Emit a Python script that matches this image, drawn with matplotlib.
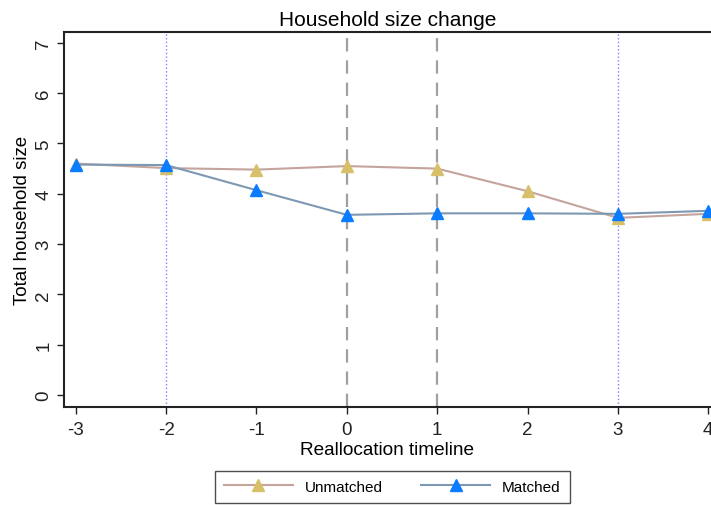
import matplotlib
matplotlib.use("Agg")
from matplotlib import pyplot as plt

plt.rcParams['font.family'] = ['Liberation Sans', 'DejaVu Sans']
plt.rcParams['axes.unicode_minus'] = False

# reallocation timeline (years relative to reallocation)
timeline = [-3, -2, -1, 0, 1, 2, 3, 4]
unmatched = [4.60, 4.51, 4.48, 4.55, 4.50, 4.05, 3.52, 3.60]
matched = [4.58, 4.57, 4.07, 3.58, 3.61, 3.61, 3.60, 3.66]
y_ticks = [0, 1, 2, 3, 4, 5, 6, 7]

fig = plt.figure(figsize=(7.11, 5.06), dpi=100)
ax = fig.add_axes([0.09, 0.194, 0.91, 0.741])

# reference lines
for x in (-2, 3):
    ax.axvline(x, color='#8080ff', linestyle=':', linewidth=1.0, zorder=1)
for x in (0, 1):
    ax.axvline(x, color='#a0a0a0', linestyle=(0, (6, 4)), linewidth=1.6, zorder=1)

ax.plot(timeline, unmatched, color='#c4a49c', linewidth=1.5, marker='^',
        markersize=9, markerfacecolor='#d8c06a', markeredgecolor='#d8c06a',
        label='Unmatched', zorder=3)
ax.plot(timeline, matched, color='#7d98b2', linewidth=1.5, marker='^',
        markersize=9, markerfacecolor='#0a7cff', markeredgecolor='#0a7cff',
        label='Matched', zorder=4)

ax.set_xlim(-3.13, 4.03)
ax.set_ylim(-0.24, 7.22)
ax.set_xticks(timeline)
ax.set_yticks(y_ticks)
ax.tick_params(axis='both', direction='out', length=5, width=1, labelsize=13.5, colors='#222222')
ax.tick_params(axis='x', pad=5)
for lbl in ax.get_yticklabels():
    lbl.set_rotation(90)
    lbl.set_va('center')

for side in ('left', 'bottom', 'top'):
    ax.spines[side].set_linewidth(1.5)
    ax.spines[side].set_color('#222222')
ax.spines['right'].set_visible(False)

ax.set_xlabel('Reallocation timeline', fontsize=13.7, labelpad=2)
ax.set_ylabel('Total household size', fontsize=13.5, labelpad=3)
ax.set_title('Household size change', fontsize=15, pad=5)

leg = fig.legend(loc='center', bbox_to_anchor=(0.552, 0.036), ncol=2,
                 fontsize=11, frameon=True, fancybox=False, edgecolor='#222222',
                 handlelength=4.5, columnspacing=2.5, borderpad=0.6)
leg.get_frame().set_linewidth(1.0)

fig.savefig('out.png', dpi=100)
